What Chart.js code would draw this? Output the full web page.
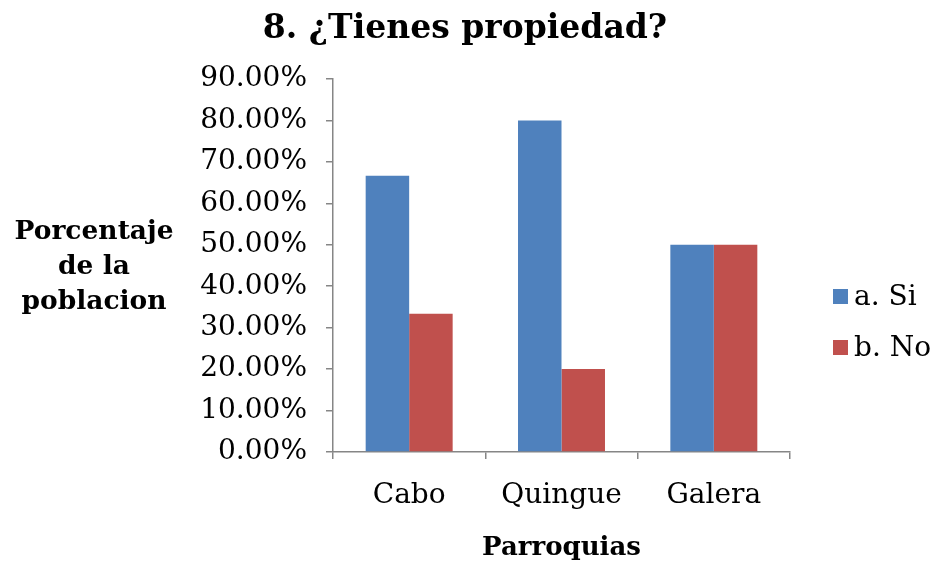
<!DOCTYPE html>
<html>
<head>
<meta charset="utf-8">
<script src="https://cdn.jsdelivr.net/npm/chart.js@4/dist/chart.umd.min.js"></script>
<style>
  html, body { margin: 0; padding: 0; background: #fff; }
  #wrap { width: 935px; height: 567px; }
</style>
</head>
<body>
<div id="wrap"><canvas id="myChart" width="935" height="567"></canvas></div>
<script>
// data
const parroquias = ["Cabo", "Quingue", "Galera"];
const si = [66.67, 80.0, 50.0];
const no = [33.33, 20.0, 50.0];
const seriesNames = ["a. Si", "b. No"];
const chartTitle = "8. ¿Tienes propiedad?";
const yTitleLines = ["Porcentaje", "de la", "poblacion"];

const serif = "'DejaVu Serif', 'Liberation Serif', serif";
const axisGrey = "#868686";

// title, y-axis title (horizontal, three lines) and legend on the right
const sidePlugin = {
  id: "side",
  afterDraw(chart) {
    const c = chart.ctx;
    c.save();
    c.fillStyle = "#000";
    c.textAlign = "center";
    c.textBaseline = "middle";
    c.font = "bold 33px " + serif;
    c.fillText(chartTitle, 465, 29);

    c.font = "bold 26.5px " + serif;
    yTitleLines.forEach((t, i) => c.fillText(t, 94, 232 + i * 35));

    const area = chart.chartArea;
    c.font = "28px " + serif;
    c.textAlign = "left";
    chart.data.datasets.forEach((ds, i) => {
      const y = 297 + i * 51;
      c.fillStyle = ds.backgroundColor;
      c.fillRect(area.right + 43, y - 8, 15, 15);
      c.fillStyle = "#000";
      c.fillText(ds.label, area.right + 64, y + 1);
    });
    c.restore();
  }
};

const ctx = document.getElementById("myChart");

new Chart(ctx, {
  type: "bar",
  data: {
    labels: parroquias,
    datasets: [
      { label: seriesNames[0], data: si, backgroundColor: "#4F81BD" },
      { label: seriesNames[1], data: no, backgroundColor: "#C0504D" },
    ],
  },
  options: {
    responsive: false,
    animation: false,
    layout: { padding: { left: 0, right: 145, top: 79, bottom: 0 } },
    datasets: { bar: { barPercentage: 1, categoryPercentage: 0.571 } },
    plugins: {
      legend: { display: false },
      tooltip: { enabled: false },
      title: { display: false },
    },
    scales: {
      x: {
        afterFit(scale) { scale.height = 115; },
        border: { color: axisGrey, width: 1.5 },
        grid: { drawOnChartArea: false, drawTicks: true, tickLength: 7, color: axisGrey, lineWidth: 1.5 },
        ticks: { color: "#000", padding: 20, font: { family: serif, size: 28 } },
        title: {
          display: true,
          text: "Parroquias",
          color: "#000",
          font: { family: serif, size: 26, weight: "bold" },
          padding: { top: 0, bottom: 3 },
        },
      },
      y: {
        min: 0,
        max: 90,
        afterFit(scale) { scale.width = 333; },
        border: { color: axisGrey, width: 1.5 },
        grid: { drawOnChartArea: false, drawTicks: true, tickLength: 7, color: axisGrey, lineWidth: 1.5 },
        ticks: {
          stepSize: 10,
          color: "#000",
          padding: 19,
          font: { family: serif, size: 28 },
          callback: (v) => v.toFixed(2) + "%",
        },
      },
    },
  },
  plugins: [sidePlugin],
});
</script>
</body>
</html>
